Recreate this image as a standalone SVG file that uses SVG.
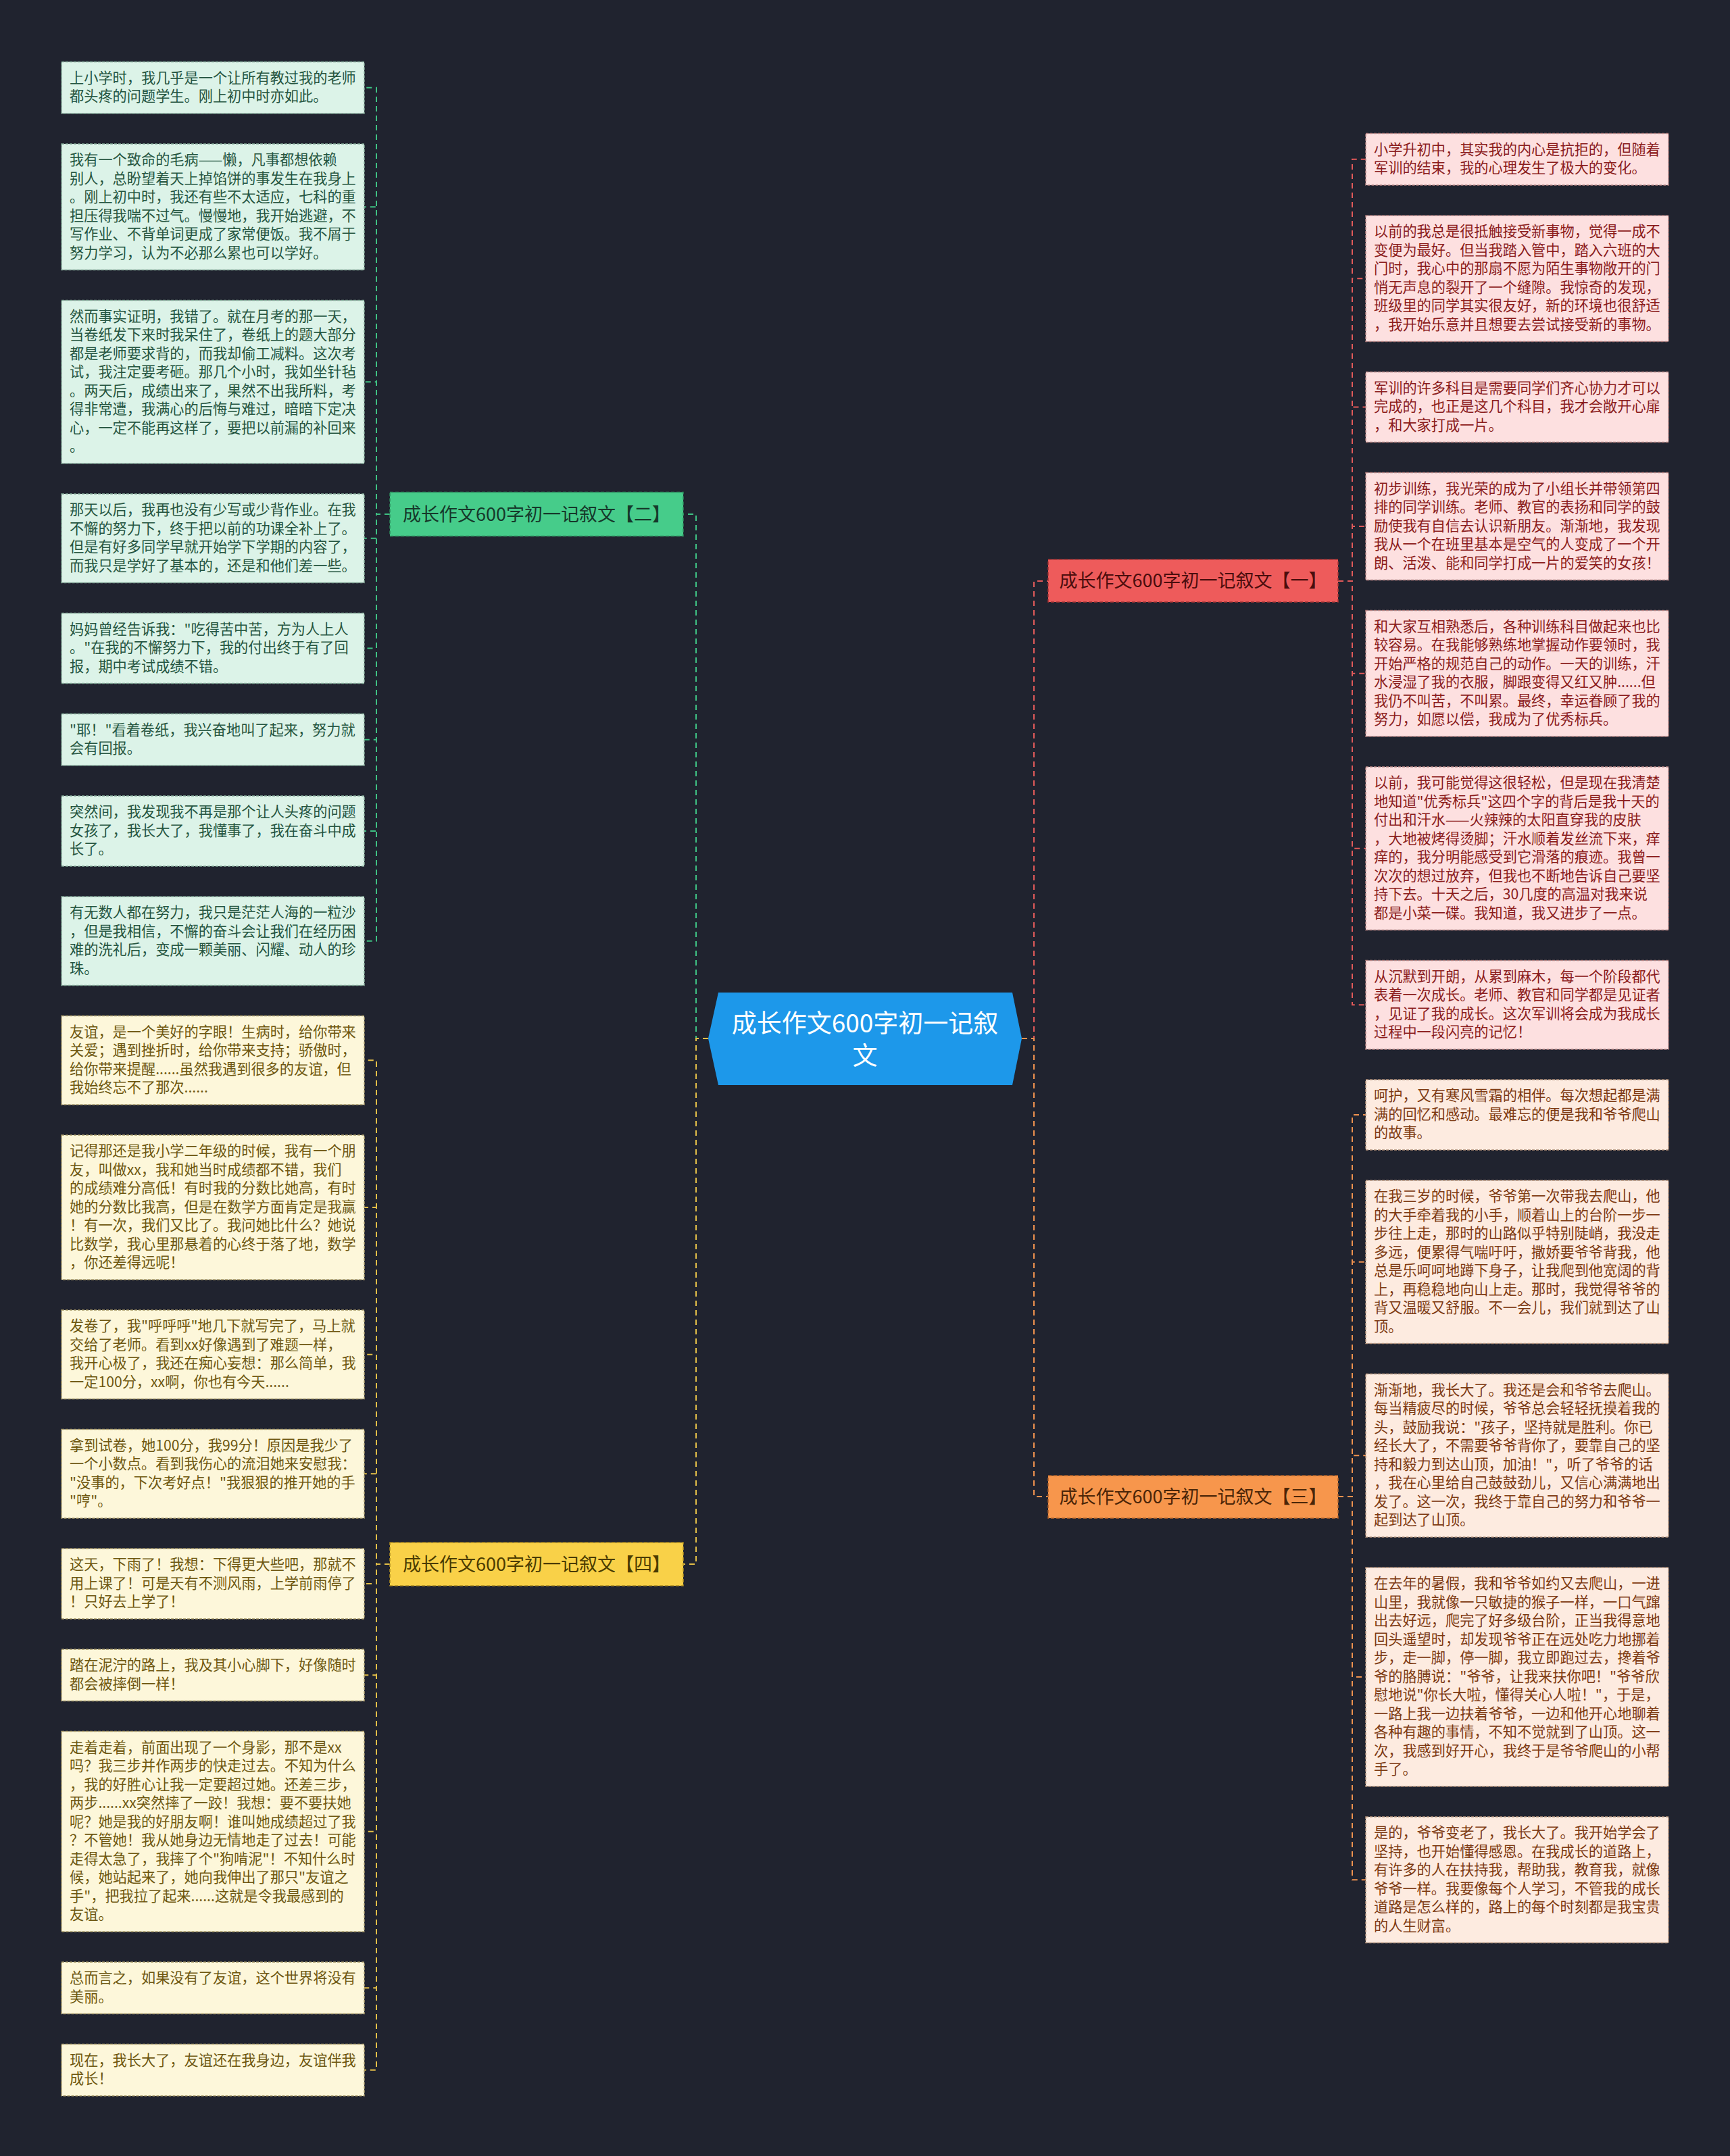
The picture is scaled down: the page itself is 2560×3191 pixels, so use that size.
<svg xmlns="http://www.w3.org/2000/svg" width="2560" height="3191" viewBox="0 0 2560 3191">
<style>
text{font-family:"Noto Sans CJK SC","Noto Sans",sans-serif}
.lt{font-size:21.2px}
.lg rect{fill:#dcf3e8;stroke:#7fa594;stroke-width:1.5;stroke-dasharray:4 2}
.lg text{fill:#255540}
.ly rect{fill:#fdf7da;stroke:#a89a6a;stroke-width:1.5;stroke-dasharray:4 2}
.ly text{fill:#6e5710}
.lr rect{fill:#fde0e0;stroke:#b08080;stroke-width:1.5;stroke-dasharray:4 2}
.lr text{fill:#8b1c1c}
.lo rect{fill:#fdebe0;stroke:#b0907a;stroke-width:1.5;stroke-dasharray:4 2}
.lo text{fill:#7d3a12}
.bt{font-size:27px;text-anchor:middle}
.c{fill:none;stroke-width:2;stroke-dasharray:8 6}
.cg{stroke:#3fc284}.cy{stroke:#e3bf48}.cr{stroke:#e25a5a}.co{stroke:#f0924f}
</style>
<rect width="2560" height="3191" fill="#20232f"/>
<g id="connectors">
<path class="c cg" d="M1048 1537H1030V761H1011"/>
<path class="c cy" d="M1048 1537H1030V2315H1011"/>
<path class="c cr" d="M1512 1537H1530V860H1551"/>
<path class="c co" d="M1512 1537H1530V2215H1551"/>
<path class="c cg" d="M577 761H557V129.75H539"/>
<path class="c cg" d="M577 761H557V306.25H539"/>
<path class="c cg" d="M577 761H557V565.25H539"/>
<path class="c cg" d="M577 761H557V796.75H539"/>
<path class="c cg" d="M577 761H557V959.5H539"/>
<path class="c cg" d="M577 761H557V1094.75H539"/>
<path class="c cg" d="M577 761H557V1230H539"/>
<path class="c cg" d="M577 761H557V1392.75H539"/>
<path class="c cy" d="M577 2315H557V1569.25H539"/>
<path class="c cy" d="M577 2315H557V1787H539"/>
<path class="c cy" d="M577 2315H557V2004.75H539"/>
<path class="c cy" d="M577 2315H557V2181.25H539"/>
<path class="c cy" d="M577 2315H557V2344H539"/>
<path class="c cy" d="M577 2315H557V2479.25H539"/>
<path class="c cy" d="M577 2315H557V2710.75H539"/>
<path class="c cy" d="M577 2315H557V2942.25H539"/>
<path class="c cy" d="M577 2315H557V3063.75H539"/>
<path class="c cr" d="M1980 860H2001V235.75H2021"/>
<path class="c cr" d="M1980 860H2001V412.25H2021"/>
<path class="c cr" d="M1980 860H2001V602.5H2021"/>
<path class="c cr" d="M1980 860H2001V779H2021"/>
<path class="c cr" d="M1980 860H2001V996.75H2021"/>
<path class="c cr" d="M1980 860H2001V1255.75H2021"/>
<path class="c cr" d="M1980 860H2001V1487.25H2021"/>
<path class="c co" d="M1980 2215H2001V1650H2021"/>
<path class="c co" d="M1980 2215H2001V1867.75H2021"/>
<path class="c co" d="M1980 2215H2001V2154.25H2021"/>
<path class="c co" d="M1980 2215H2001V2482H2021"/>
<path class="c co" d="M1980 2215H2001V2782.25H2021"/>
</g>
<g id="center">
<polygon points="1048,1537 1063,1469 1498,1469 1512,1537 1498,1606 1063,1606" fill="#1d98ea"/>
<text x="1280" y="1528" font-size="37" fill="#ffffff" text-anchor="middle">成长作文600字初一记叙</text>
<text x="1280" y="1576" font-size="37" fill="#ffffff" text-anchor="middle">文</text>
</g>
<g id="branch2">
<rect x="577" y="728.5" width="434" height="65" fill="#46cc8a" stroke="#2c8a5c" stroke-width="1.5" stroke-dasharray="5 3"/>
<text class="bt" x="794" y="770.5" fill="#16382a">成长作文600字初一记叙文【二】</text>
</g>
<g id="branch4">
<rect x="577" y="2283" width="434" height="64" fill="#f9d148" stroke="#b08e20" stroke-width="1.5" stroke-dasharray="5 3"/>
<text class="bt" x="794" y="2324.5" fill="#4a3b00">成长作文600字初一记叙文【四】</text>
</g>
<g id="branch1">
<rect x="1551" y="828" width="429" height="63" fill="#ee5b5b" stroke="#a83636" stroke-width="1.5" stroke-dasharray="5 3"/>
<text class="bt" x="1765.5" y="869" fill="#4a0d0d">成长作文600字初一记叙文【一】</text>
</g>
<g id="branch3">
<rect x="1551" y="2184" width="429" height="63" fill="#f7964c" stroke="#b0622a" stroke-width="1.5" stroke-dasharray="5 3"/>
<text class="bt" x="1765.5" y="2225" fill="#4a2508">成长作文600字初一记叙文【三】</text>
</g>

<g id="L1" class="lg"><rect x="91" y="91.5" width="448" height="76.5"/><text class="lt" x="103" y="122.5"><tspan x="103">上小学时，我几乎是一个让所有教过我的老师</tspan><tspan x="103" dy="27.5">都头疼的问题学生。刚上初中时亦如此。</tspan></text></g>
<g id="L2" class="lg"><rect x="91" y="213" width="448" height="186.5"/><text class="lt" x="103" y="244"><tspan x="103">我有一个致命的毛病——懒，凡事都想依赖</tspan><tspan x="103" dy="27.5">别人，总盼望着天上掉馅饼的事发生在我身上</tspan><tspan x="103" dy="27.5">。刚上初中时，我还有些不太适应，七科的重</tspan><tspan x="103" dy="27.5">担压得我喘不过气。慢慢地，我开始逃避，不</tspan><tspan x="103" dy="27.5">写作业、不背单词更成了家常便饭。我不屑于</tspan><tspan x="103" dy="27.5">努力学习，认为不必那么累也可以学好。</tspan></text></g>
<g id="L3" class="lg"><rect x="91" y="444.5" width="448" height="241.5"/><text class="lt" x="103" y="475.5"><tspan x="103">然而事实证明，我错了。就在月考的那一天，</tspan><tspan x="103" dy="27.5">当卷纸发下来时我呆住了，卷纸上的题大部分</tspan><tspan x="103" dy="27.5">都是老师要求背的，而我却偷工减料。这次考</tspan><tspan x="103" dy="27.5">试，我注定要考砸。那几个小时，我如坐针毡</tspan><tspan x="103" dy="27.5">。两天后，成绩出来了，果然不出我所料，考</tspan><tspan x="103" dy="27.5">得非常遭，我满心的后悔与难过，暗暗下定决</tspan><tspan x="103" dy="27.5">心，一定不能再这样了，要把以前漏的补回来</tspan><tspan x="103" dy="27.5">。</tspan></text></g>
<g id="L4" class="lg"><rect x="91" y="731" width="448" height="131.5"/><text class="lt" x="103" y="762"><tspan x="103">那天以后，我再也没有少写或少背作业。在我</tspan><tspan x="103" dy="27.5">不懈的努力下，终于把以前的功课全补上了。</tspan><tspan x="103" dy="27.5">但是有好多同学早就开始学下学期的内容了，</tspan><tspan x="103" dy="27.5">而我只是学好了基本的，还是和他们差一些。</tspan></text></g>
<g id="L5" class="lg"><rect x="91" y="907.5" width="448" height="104"/><text class="lt" x="103" y="938.5"><tspan x="103">妈妈曾经告诉我："吃得苦中苦，方为人上人</tspan><tspan x="103" dy="27.5">。"在我的不懈努力下，我的付出终于有了回</tspan><tspan x="103" dy="27.5">报，期中考试成绩不错。</tspan></text></g>
<g id="L6" class="lg"><rect x="91" y="1056.5" width="448" height="76.5"/><text class="lt" x="103" y="1087.5"><tspan x="103">"耶！"看着卷纸，我兴奋地叫了起来，努力就</tspan><tspan x="103" dy="27.5">会有回报。</tspan></text></g>
<g id="L7" class="lg"><rect x="91" y="1178" width="448" height="104"/><text class="lt" x="103" y="1209"><tspan x="103">突然间，我发现我不再是那个让人头疼的问题</tspan><tspan x="103" dy="27.5">女孩了，我长大了，我懂事了，我在奋斗中成</tspan><tspan x="103" dy="27.5">长了。</tspan></text></g>
<g id="L8" class="lg"><rect x="91" y="1327" width="448" height="131.5"/><text class="lt" x="103" y="1358"><tspan x="103">有无数人都在努力，我只是茫茫人海的一粒沙</tspan><tspan x="103" dy="27.5">，但是我相信，不懈的奋斗会让我们在经历困</tspan><tspan x="103" dy="27.5">难的洗礼后，变成一颗美丽、闪耀、动人的珍</tspan><tspan x="103" dy="27.5">珠。</tspan></text></g>

<g id="L9" class="ly"><rect x="91" y="1503.5" width="448" height="131.5"/><text class="lt" x="103" y="1534.5"><tspan x="103">友谊，是一个美好的字眼！生病时，给你带来</tspan><tspan x="103" dy="27.5">关爱；遇到挫折时，给你带来支持；骄傲时，</tspan><tspan x="103" dy="27.5">给你带来提醒......虽然我遇到很多的友谊，但</tspan><tspan x="103" dy="27.5">我始终忘不了那次......</tspan></text></g>
<g id="L10" class="ly"><rect x="91" y="1680" width="448" height="214"/><text class="lt" x="103" y="1711"><tspan x="103">记得那还是我小学二年级的时候，我有一个朋</tspan><tspan x="103" dy="27.5">友，叫做xx，我和她当时成绩都不错，我们</tspan><tspan x="103" dy="27.5">的成绩难分高低！有时我的分数比她高，有时</tspan><tspan x="103" dy="27.5">她的分数比我高，但是在数学方面肯定是我赢</tspan><tspan x="103" dy="27.5">！有一次，我们又比了。我问她比什么？她说</tspan><tspan x="103" dy="27.5">比数学，我心里那悬着的心终于落了地，数学</tspan><tspan x="103" dy="27.5">，你还差得远呢！</tspan></text></g>
<g id="L11" class="ly"><rect x="91" y="1939" width="448" height="131.5"/><text class="lt" x="103" y="1970"><tspan x="103">发卷了，我"呼呼呼"地几下就写完了，马上就</tspan><tspan x="103" dy="27.5">交给了老师。看到xx好像遇到了难题一样，</tspan><tspan x="103" dy="27.5">我开心极了，我还在痴心妄想：那么简单，我</tspan><tspan x="103" dy="27.5">一定100分，xx啊，你也有今天......</tspan></text></g>
<g id="L12" class="ly"><rect x="91" y="2115.5" width="448" height="131.5"/><text class="lt" x="103" y="2146.5"><tspan x="103">拿到试卷，她100分，我99分！原因是我少了</tspan><tspan x="103" dy="27.5">一个小数点。看到我伤心的流泪她来安慰我：</tspan><tspan x="103" dy="27.5">"没事的，下次考好点！"我狠狠的推开她的手</tspan><tspan x="103" dy="27.5">"哼"。</tspan></text></g>
<g id="L13" class="ly"><rect x="91" y="2292" width="448" height="104"/><text class="lt" x="103" y="2323"><tspan x="103">这天，下雨了！我想：下得更大些吧，那就不</tspan><tspan x="103" dy="27.5">用上课了！可是天有不测风雨，上学前雨停了</tspan><tspan x="103" dy="27.5">！只好去上学了！</tspan></text></g>
<g id="L14" class="ly"><rect x="91" y="2441" width="448" height="76.5"/><text class="lt" x="103" y="2472"><tspan x="103">踏在泥泞的路上，我及其小心脚下，好像随时</tspan><tspan x="103" dy="27.5">都会被摔倒一样！</tspan></text></g>
<g id="L15" class="ly"><rect x="91" y="2562.5" width="448" height="296.5"/><text class="lt" x="103" y="2593.5"><tspan x="103">走着走着，前面出现了一个身影，那不是xx</tspan><tspan x="103" dy="27.5">吗？我三步并作两步的快走过去。不知为什么</tspan><tspan x="103" dy="27.5">，我的好胜心让我一定要超过她。还差三步，</tspan><tspan x="103" dy="27.5">两步......xx突然摔了一跤！我想：要不要扶她</tspan><tspan x="103" dy="27.5">呢？她是我的好朋友啊！谁叫她成绩超过了我</tspan><tspan x="103" dy="27.5">？不管她！我从她身边无情地走了过去！可能</tspan><tspan x="103" dy="27.5">走得太急了，我摔了个"狗啃泥"！不知什么时</tspan><tspan x="103" dy="27.5">候，她站起来了，她向我伸出了那只"友谊之</tspan><tspan x="103" dy="27.5">手"，把我拉了起来......这就是令我最感到的</tspan><tspan x="103" dy="27.5">友谊。</tspan></text></g>
<g id="L16" class="ly"><rect x="91" y="2904" width="448" height="76.5"/><text class="lt" x="103" y="2935"><tspan x="103">总而言之，如果没有了友谊，这个世界将没有</tspan><tspan x="103" dy="27.5">美丽。</tspan></text></g>
<g id="L17" class="ly"><rect x="91" y="3025.5" width="448" height="76.5"/><text class="lt" x="103" y="3056.5"><tspan x="103">现在，我长大了，友谊还在我身边，友谊伴我</tspan><tspan x="103" dy="27.5">成长！</tspan></text></g>

<g id="R1" class="lr"><rect x="2021" y="197.5" width="448" height="76.5"/><text class="lt" x="2033" y="228.5"><tspan x="2033">小学升初中，其实我的内心是抗拒的，但随着</tspan><tspan x="2033" dy="27.5">军训的结束，我的心理发生了极大的变化。</tspan></text></g>
<g id="R2" class="lr"><rect x="2021" y="319" width="448" height="186.5"/><text class="lt" x="2033" y="350"><tspan x="2033">以前的我总是很抵触接受新事物，觉得一成不</tspan><tspan x="2033" dy="27.5">变便为最好。但当我踏入管中，踏入六班的大</tspan><tspan x="2033" dy="27.5">门时，我心中的那扇不愿为陌生事物敞开的门</tspan><tspan x="2033" dy="27.5">悄无声息的裂开了一个缝隙。我惊奇的发现，</tspan><tspan x="2033" dy="27.5">班级里的同学其实很友好，新的环境也很舒适</tspan><tspan x="2033" dy="27.5">，我开始乐意并且想要去尝试接受新的事物。</tspan></text></g>
<g id="R3" class="lr"><rect x="2021" y="550.5" width="448" height="104"/><text class="lt" x="2033" y="581.5"><tspan x="2033">军训的许多科目是需要同学们齐心协力才可以</tspan><tspan x="2033" dy="27.5">完成的，也正是这几个科目，我才会敞开心扉</tspan><tspan x="2033" dy="27.5">，和大家打成一片。</tspan></text></g>
<g id="R4" class="lr"><rect x="2021" y="699.5" width="448" height="159"/><text class="lt" x="2033" y="730.5"><tspan x="2033">初步训练，我光荣的成为了小组长并带领第四</tspan><tspan x="2033" dy="27.5">排的同学训练。老师、教官的表扬和同学的鼓</tspan><tspan x="2033" dy="27.5">励使我有自信去认识新朋友。渐渐地，我发现</tspan><tspan x="2033" dy="27.5">我从一个在班里基本是空气的人变成了一个开</tspan><tspan x="2033" dy="27.5">朗、活泼、能和同学打成一片的爱笑的女孩！</tspan></text></g>
<g id="R5" class="lr"><rect x="2021" y="903.5" width="448" height="186.5"/><text class="lt" x="2033" y="934.5"><tspan x="2033">和大家互相熟悉后，各种训练科目做起来也比</tspan><tspan x="2033" dy="27.5">较容易。在我能够熟练地掌握动作要领时，我</tspan><tspan x="2033" dy="27.5">开始严格的规范自己的动作。一天的训练，汗</tspan><tspan x="2033" dy="27.5">水浸湿了我的衣服，脚跟变得又红又肿......但</tspan><tspan x="2033" dy="27.5">我仍不叫苦，不叫累。最终，幸运眷顾了我的</tspan><tspan x="2033" dy="27.5">努力，如愿以偿，我成为了优秀标兵。</tspan></text></g>
<g id="R6" class="lr"><rect x="2021" y="1135" width="448" height="241.5"/><text class="lt" x="2033" y="1166"><tspan x="2033">以前，我可能觉得这很轻松，但是现在我清楚</tspan><tspan x="2033" dy="27.5">地知道"优秀标兵"这四个字的背后是我十天的</tspan><tspan x="2033" dy="27.5">付出和汗水——火辣辣的太阳直穿我的皮肤</tspan><tspan x="2033" dy="27.5">，大地被烤得烫脚；汗水顺着发丝流下来，痒</tspan><tspan x="2033" dy="27.5">痒的，我分明能感受到它滑落的痕迹。我曾一</tspan><tspan x="2033" dy="27.5">次次的想过放弃，但我也不断地告诉自己要坚</tspan><tspan x="2033" dy="27.5">持下去。十天之后，30几度的高温对我来说</tspan><tspan x="2033" dy="27.5">都是小菜一碟。我知道，我又进步了一点。</tspan></text></g>
<g id="R7" class="lr"><rect x="2021" y="1421.5" width="448" height="131.5"/><text class="lt" x="2033" y="1452.5"><tspan x="2033">从沉默到开朗，从累到麻木，每一个阶段都代</tspan><tspan x="2033" dy="27.5">表着一次成长。老师、教官和同学都是见证者</tspan><tspan x="2033" dy="27.5">，见证了我的成长。这次军训将会成为我成长</tspan><tspan x="2033" dy="27.5">过程中一段闪亮的记忆！</tspan></text></g>

<g id="R8" class="lo"><rect x="2021" y="1598" width="448" height="104"/><text class="lt" x="2033" y="1629"><tspan x="2033">呵护，又有寒风雪霜的相伴。每次想起都是满</tspan><tspan x="2033" dy="27.5">满的回忆和感动。最难忘的便是我和爷爷爬山</tspan><tspan x="2033" dy="27.5">的故事。</tspan></text></g>
<g id="R9" class="lo"><rect x="2021" y="1747" width="448" height="241.5"/><text class="lt" x="2033" y="1778"><tspan x="2033">在我三岁的时候，爷爷第一次带我去爬山，他</tspan><tspan x="2033" dy="27.5">的大手牵着我的小手，顺着山上的台阶一步一</tspan><tspan x="2033" dy="27.5">步往上走，那时的山路似乎特别陡峭，我没走</tspan><tspan x="2033" dy="27.5">多远，便累得气喘吁吁，撒娇要爷爷背我，他</tspan><tspan x="2033" dy="27.5">总是乐呵呵地蹲下身子，让我爬到他宽阔的背</tspan><tspan x="2033" dy="27.5">上，再稳稳地向山上走。那时，我觉得爷爷的</tspan><tspan x="2033" dy="27.5">背又温暖又舒服。不一会儿，我们就到达了山</tspan><tspan x="2033" dy="27.5">顶。</tspan></text></g>
<g id="R10" class="lo"><rect x="2021" y="2033.5" width="448" height="241.5"/><text class="lt" x="2033" y="2064.5"><tspan x="2033">渐渐地，我长大了。我还是会和爷爷去爬山。</tspan><tspan x="2033" dy="27.5">每当精疲尽的时候，爷爷总会轻轻抚摸着我的</tspan><tspan x="2033" dy="27.5">头，鼓励我说："孩子，坚持就是胜利。你已</tspan><tspan x="2033" dy="27.5">经长大了，不需要爷爷背你了，要靠自己的坚</tspan><tspan x="2033" dy="27.5">持和毅力到达山顶，加油！"，听了爷爷的话</tspan><tspan x="2033" dy="27.5">，我在心里给自己鼓鼓劲儿，又信心满满地出</tspan><tspan x="2033" dy="27.5">发了。这一次，我终于靠自己的努力和爷爷一</tspan><tspan x="2033" dy="27.5">起到达了山顶。</tspan></text></g>
<g id="R11" class="lo"><rect x="2021" y="2320" width="448" height="324"/><text class="lt" x="2033" y="2351"><tspan x="2033">在去年的暑假，我和爷爷如约又去爬山，一进</tspan><tspan x="2033" dy="27.5">山里，我就像一只敏捷的猴子一样，一口气蹿</tspan><tspan x="2033" dy="27.5">出去好远，爬完了好多级台阶，正当我得意地</tspan><tspan x="2033" dy="27.5">回头遥望时，却发现爷爷正在远处吃力地挪着</tspan><tspan x="2033" dy="27.5">步，走一脚，停一脚，我立即跑过去，搀着爷</tspan><tspan x="2033" dy="27.5">爷的胳膊说："爷爷，让我来扶你吧！"爷爷欣</tspan><tspan x="2033" dy="27.5">慰地说"你长大啦，懂得关心人啦！"，于是，</tspan><tspan x="2033" dy="27.5">一路上我一边扶着爷爷，一边和他开心地聊着</tspan><tspan x="2033" dy="27.5">各种有趣的事情，不知不觉就到了山顶。这一</tspan><tspan x="2033" dy="27.5">次，我感到好开心，我终于是爷爷爬山的小帮</tspan><tspan x="2033" dy="27.5">手了。</tspan></text></g>
<g id="R12" class="lo"><rect x="2021" y="2689" width="448" height="186.5"/><text class="lt" x="2033" y="2720"><tspan x="2033">是的，爷爷变老了，我长大了。我开始学会了</tspan><tspan x="2033" dy="27.5">坚持，也开始懂得感恩。在我成长的道路上，</tspan><tspan x="2033" dy="27.5">有许多的人在扶持我，帮助我，教育我，就像</tspan><tspan x="2033" dy="27.5">爷爷一样。我要像每个人学习，不管我的成长</tspan><tspan x="2033" dy="27.5">道路是怎么样的，路上的每个时刻都是我宝贵</tspan><tspan x="2033" dy="27.5">的人生财富。</tspan></text></g>
</svg>
